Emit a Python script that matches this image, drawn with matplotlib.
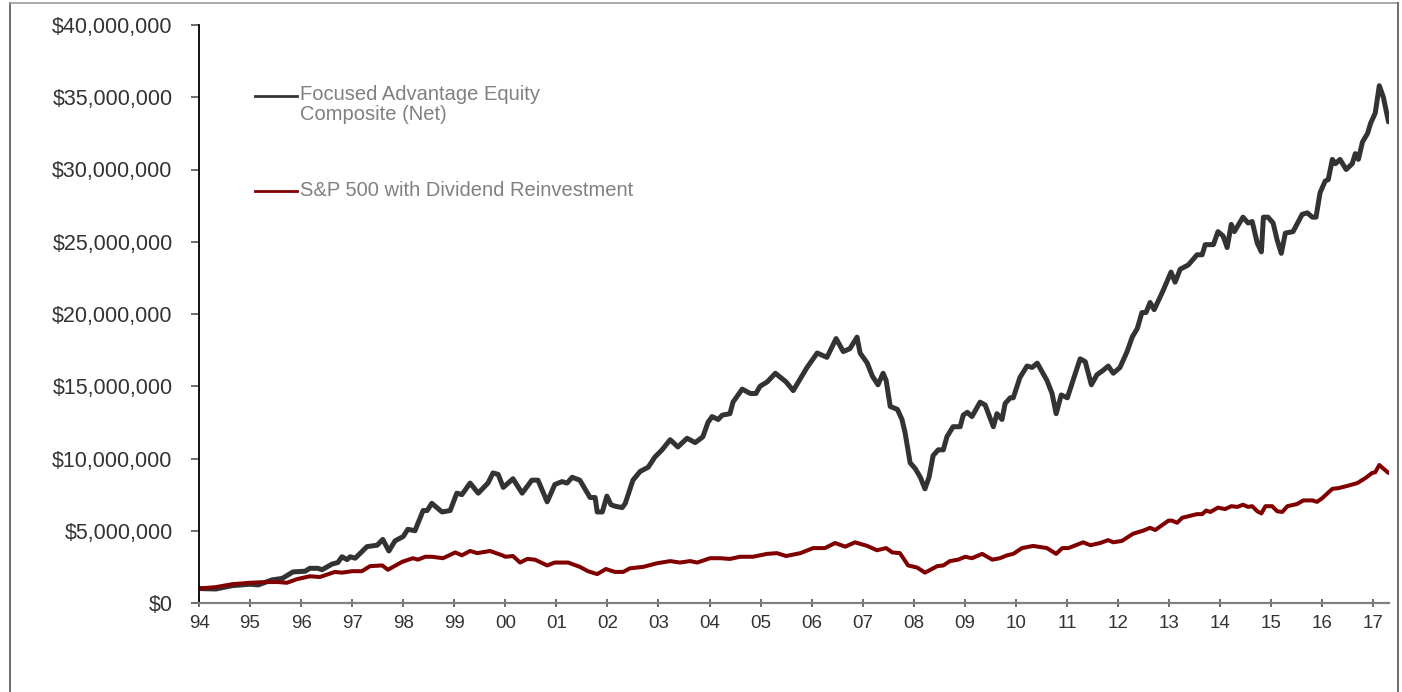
import numpy as np
import matplotlib.pyplot as plt
from matplotlib.lines import Line2D
from matplotlib.ticker import FuncFormatter

plt.rcParams['font.family'] = ['Liberation Sans', 'DejaVu Sans']

# Growth of $1,000,000 (values in $ millions), decimal years
fae_years = [
    1994.00, 1994.33, 1994.65, 1995.00, 1995.16, 1995.43, 1995.63, 1995.84, 1996.08, 1996.17,
    1996.33, 1996.41, 1996.61, 1996.72, 1996.80, 1996.90, 1996.96, 1997.06, 1997.29, 1997.49,
    1997.60, 1997.72, 1997.84, 1998.00, 1998.09, 1998.23, 1998.39, 1998.47, 1998.56, 1998.76,
    1998.92, 1999.05, 1999.15, 1999.31, 1999.47, 1999.66, 1999.76, 1999.86, 1999.96, 2000.15,
    2000.33, 2000.52, 2000.64, 2000.82, 2000.97, 2001.11, 2001.21, 2001.31, 2001.46, 2001.66,
    2001.76, 2001.80, 2001.90, 2001.99, 2002.07, 2002.15, 2002.29, 2002.35, 2002.50, 2002.64,
    2002.80, 2002.93, 2003.07, 2003.23, 2003.38, 2003.56, 2003.72, 2003.87, 2003.97, 2004.05,
    2004.17, 2004.25, 2004.40, 2004.46, 2004.64, 2004.80, 2004.91, 2004.99, 2005.13, 2005.29,
    2005.50, 2005.64, 2005.91, 2006.11, 2006.30, 2006.48, 2006.62, 2006.75, 2006.89, 2006.95,
    2007.09, 2007.19, 2007.30, 2007.40, 2007.46, 2007.54, 2007.68, 2007.77, 2007.83, 2007.93,
    2008.03, 2008.13, 2008.22, 2008.30, 2008.38, 2008.48, 2008.58, 2008.65, 2008.77, 2008.91,
    2008.97, 2009.05, 2009.14, 2009.30, 2009.40, 2009.56, 2009.63, 2009.73, 2009.79, 2009.89,
    2009.95, 2010.08, 2010.22, 2010.32, 2010.42, 2010.61, 2010.71, 2010.79, 2010.89, 2011.01,
    2011.12, 2011.26, 2011.36, 2011.48, 2011.59, 2011.71, 2011.81, 2011.91, 2012.04, 2012.18,
    2012.28, 2012.38, 2012.47, 2012.55, 2012.63, 2012.71, 2012.87, 2013.04, 2013.12, 2013.22,
    2013.38, 2013.55, 2013.65, 2013.71, 2013.87, 2013.96, 2014.06, 2014.14, 2014.22, 2014.28,
    2014.45, 2014.55, 2014.63, 2014.73, 2014.81, 2014.85, 2014.94, 2015.04, 2015.12, 2015.20,
    2015.28, 2015.43, 2015.61, 2015.71, 2015.81, 2015.88, 2015.96, 2016.06, 2016.12, 2016.20,
    2016.26, 2016.35, 2016.47, 2016.59, 2016.65, 2016.71, 2016.79, 2016.89, 2016.95, 2017.04,
    2017.12, 2017.20, 2017.30,
]
fae_values = [
    1.0, 0.97, 1.2, 1.3, 1.25, 1.6, 1.7, 2.15, 2.2, 2.4,
    2.4, 2.3, 2.7, 2.8, 3.2, 3.0, 3.2, 3.1, 3.9, 4.0,
    4.4, 3.6, 4.3, 4.6, 5.1, 5.0, 6.4, 6.4, 6.9, 6.3,
    6.4, 7.6, 7.5, 8.3, 7.6, 8.3, 9.0, 8.9, 8.0, 8.6,
    7.6, 8.5, 8.5, 7.0, 8.2, 8.4, 8.3, 8.7, 8.5, 7.3,
    7.3, 6.3, 6.3, 7.4, 6.8, 6.7, 6.6, 6.9, 8.5, 9.1,
    9.4, 10.1, 10.6, 11.3, 10.8, 11.4, 11.1, 11.5, 12.5, 12.9,
    12.7, 13.0, 13.1, 13.9, 14.8, 14.5, 14.5, 15.0, 15.3, 15.9,
    15.3, 14.7, 16.3, 17.3, 17.0, 18.3, 17.4, 17.6, 18.4, 17.3,
    16.6, 15.7, 15.1, 15.9, 15.4, 13.6, 13.4, 12.7, 11.8, 9.7,
    9.3, 8.7, 7.9, 8.7, 10.2, 10.6, 10.6, 11.5, 12.2, 12.2,
    13.0, 13.2, 12.9, 13.9, 13.7, 12.2, 13.1, 12.7, 13.8, 14.2,
    14.2, 15.6, 16.4, 16.3, 16.6, 15.4, 14.5, 13.1, 14.4, 14.2,
    15.4, 16.9, 16.7, 15.1, 15.8, 16.1, 16.4, 15.9, 16.3, 17.4,
    18.4, 19.0, 20.1, 20.1, 20.8, 20.3, 21.5, 22.9, 22.2, 23.1,
    23.4, 24.1, 24.1, 24.8, 24.8, 25.7, 25.4, 24.6, 26.2, 25.7,
    26.7, 26.3, 26.4, 24.9, 24.3, 26.7, 26.7, 26.3, 25.1, 24.2,
    25.6, 25.7, 26.9, 27.0, 26.7, 26.7, 28.4, 29.2, 29.3, 30.7,
    30.4, 30.7, 30.0, 30.4, 31.1, 30.7, 31.9, 32.5, 33.2, 33.9,
    35.8, 35.0, 33.3,
]

sp_years = [
    1994.00, 1994.33, 1994.65, 1995.00, 1995.29, 1995.55, 1995.72, 1995.92, 1996.17, 1996.37,
    1996.66, 1996.80, 1997.00, 1997.19, 1997.35, 1997.59, 1997.70, 1997.98, 1998.19, 1998.29,
    1998.43, 1998.56, 1998.78, 1999.02, 1999.15, 1999.31, 1999.45, 1999.70, 1999.94, 2000.00,
    2000.15, 2000.29, 2000.43, 2000.58, 2000.82, 2000.97, 2001.23, 2001.46, 2001.62, 2001.80,
    2001.97, 2002.15, 2002.31, 2002.44, 2002.70, 2002.97, 2003.23, 2003.42, 2003.62, 2003.76,
    2004.01, 2004.21, 2004.40, 2004.60, 2004.85, 2005.13, 2005.32, 2005.50, 2005.78, 2006.03,
    2006.26, 2006.46, 2006.66, 2006.85, 2007.09, 2007.28, 2007.46, 2007.58, 2007.73, 2007.89,
    2008.07, 2008.22, 2008.46, 2008.58, 2008.71, 2008.87, 2009.01, 2009.14, 2009.34, 2009.54,
    2009.69, 2009.83, 2009.95, 2010.12, 2010.34, 2010.61, 2010.79, 2010.91, 2011.03, 2011.32,
    2011.46, 2011.65, 2011.81, 2011.91, 2012.08, 2012.30, 2012.49, 2012.63, 2012.73, 2012.99,
    2013.06, 2013.16, 2013.26, 2013.55, 2013.65, 2013.73, 2013.81, 2013.96, 2014.10, 2014.22,
    2014.34, 2014.45, 2014.55, 2014.63, 2014.73, 2014.81, 2014.89, 2015.02, 2015.12, 2015.22,
    2015.32, 2015.51, 2015.63, 2015.81, 2015.90, 2016.00, 2016.20, 2016.32, 2016.49, 2016.69,
    2016.85, 2016.98, 2017.04, 2017.12, 2017.20, 2017.30,
]
sp_values = [
    1.0, 1.1, 1.3, 1.4, 1.45, 1.45, 1.4, 1.65, 1.85, 1.8,
    2.15, 2.1, 2.2, 2.2, 2.55, 2.6, 2.3, 2.85, 3.1, 3.0,
    3.2, 3.2, 3.1, 3.5, 3.3, 3.6, 3.45, 3.6, 3.3, 3.2,
    3.25, 2.8, 3.05, 3.0, 2.6, 2.8, 2.8, 2.5, 2.2, 2.0,
    2.35, 2.15, 2.15, 2.4, 2.5, 2.75, 2.9, 2.8, 2.9, 2.8,
    3.1, 3.1, 3.05, 3.2, 3.2, 3.4, 3.45, 3.25, 3.45, 3.8,
    3.8, 4.15, 3.9, 4.2, 3.95, 3.65, 3.8, 3.5, 3.45, 2.6,
    2.45, 2.1, 2.55, 2.6, 2.9, 3.0, 3.2, 3.1, 3.4, 3.0,
    3.1, 3.3, 3.4, 3.8, 3.95, 3.8, 3.4, 3.8, 3.8, 4.2,
    4.0, 4.15, 4.35, 4.2, 4.3, 4.8, 5.0, 5.2, 5.05, 5.7,
    5.7, 5.55, 5.9, 6.15, 6.15, 6.4, 6.3, 6.6, 6.5, 6.7,
    6.65, 6.8, 6.65, 6.7, 6.35, 6.2, 6.7, 6.7, 6.35, 6.3,
    6.7, 6.85, 7.1, 7.1, 7.0, 7.25, 7.9, 7.95, 8.1, 8.3,
    8.65, 9.0, 9.05, 9.55, 9.3, 9.0,
]

fae_label = ["Focused Advantage Equity", "Composite (Net)"]
sp_label = "S&P 500 with Dividend Reinvestment"
tick_years = list(range(1994, 2018))
dollar_ticks = list(range(0, 40_000_001, 5_000_000))

fae_color = '#333333'
sp_color = '#800000'
legend_text = '#808080'

fig = plt.figure(figsize=(14.02, 6.92), dpi=100)
ax = fig.add_axes([199 / 1402, 89 / 692, 1190 / 1402, 578 / 692])

ax.plot(fae_years, np.array(fae_values) * 1e6, color=fae_color, lw=3.6,
        solid_joinstyle='round', solid_capstyle='round')
ax.plot(sp_years, np.array(sp_values) * 1e6, color=sp_color, lw=2.9,
        solid_joinstyle='round', solid_capstyle='round')

ax.set_xlim(1994, 2017.31)
ax.set_ylim(0, 40_000_000)

ax.set_yticks(dollar_ticks)
ax.yaxis.set_major_formatter(FuncFormatter(lambda v, _: f"${v:,.0f}"))
ax.set_xticks(tick_years)
ax.set_xticklabels([f"{y % 100:02d}" for y in tick_years])

for side in ['top', 'right']:
    ax.spines[side].set_visible(False)
ax.spines['left'].set_color('black')
ax.spines['left'].set_linewidth(1.3)
ax.spines['bottom'].set_color('#808080')
ax.spines['bottom'].set_linewidth(1.6)

ax.tick_params(axis='y', direction='out', length=6, width=1.2, color='#555555',
               pad=13, labelsize=15.5, labelcolor='#333333')
ax.tick_params(axis='x', direction='inout', length=6, width=1.2, color='#555555',
               pad=6, labelsize=13.5, labelcolor='#333333')

# hand-placed legend
ax.add_line(Line2D([0.047, 0.0824], [0.877, 0.877], transform=ax.transAxes,
                   color=fae_color, lw=2))
ax.text(0.085, 0.879, fae_label[0], transform=ax.transAxes, ha='left', va='center',
        fontsize=14.5, color=legend_text)
ax.text(0.085, 0.845, fae_label[1], transform=ax.transAxes, ha='left', va='center',
        fontsize=14.5, color=legend_text)
ax.add_line(Line2D([0.047, 0.0824], [0.712, 0.712], transform=ax.transAxes,
                   color=sp_color, lw=2))
ax.text(0.085, 0.713, sp_label, transform=ax.transAxes, ha='left', va='center',
        fontsize=14.5, color=legend_text)

# outer frame around the chart
fig.add_artist(Line2D([10 / 1402, 10 / 1402], [0, 1 - 3 / 692], transform=fig.transFigure,
                      color='#555555', lw=1.2))
fig.add_artist(Line2D([10 / 1402, 1398 / 1402], [1 - 3 / 692, 1 - 3 / 692],
                      transform=fig.transFigure, color='#999999', lw=1.2))
fig.add_artist(Line2D([1398 / 1402, 1398 / 1402], [0, 1 - 3 / 692], transform=fig.transFigure,
                      color='#555555', lw=1.2))

fig.savefig('out.png', dpi=100)
